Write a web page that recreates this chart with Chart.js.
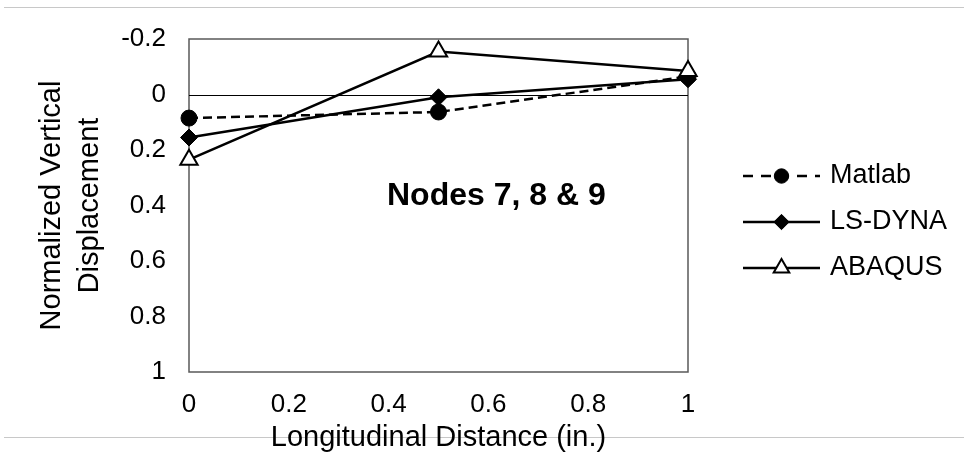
<!DOCTYPE html>
<html>
<head>
<meta charset="utf-8">
<script src="https://cdn.jsdelivr.net/npm/chart.js@4/dist/chart.umd.min.js"></script>
<style>
  html, body { margin: 0; padding: 0; background: #fff; }
  #wrap { width: 964px; height: 459px; position: relative; }
</style>
</head>
<body>
<div id="wrap"><canvas id="chart"></canvas></div>
<script>
// node displacement along the span (positive = downward)
const xValues = [0, 0.5, 1];
const matlab = [0.085, 0.063, -0.065];
const lsDyna = [0.155, 0.01, -0.055];
const abaqus = [0.235, -0.155, -0.085];
const seriesNames = ['Matlab', 'LS-DYNA', 'ABAQUS'];
const xTickLabels = ['0', '0.2', '0.4', '0.6', '0.8', '1'];
const yTickLabels = ['-0.2', '0', '0.2', '0.4', '0.6', '0.8', '1'];
const noteText = 'Nodes 7, 8 & 9';

const FONT = '"Liberation Sans", Arial, sans-serif';
const Y_MIN = -0.2;
const Y_MAX = 1;
const STEP = 0.2;

// where the note and legend sit
const NOTE_AT = { x: 0.616, y: 0.366 };
const LEGEND = { lineFrom: 743, lineTo: 820, textX: 830, rows: [176, 222, 268] };

function points(values) {
  return xValues.map((x, i) => ({ x: x, y: values[i] }));
}

// tick labels looked up by value so the reversed axis keeps them right
function labelFor(list, start) {
  return (v) => list[Math.round((v - start) / STEP)];
}

const datasets = [
  {
    label: seriesNames[0],
    data: points(matlab),
    borderColor: '#000',
    borderWidth: 2.5,
    borderDash: [9, 5],
    legendDash: [10, 8],
    pointStyle: 'circle',
    pointRadius: 8,
    pointBackgroundColor: '#000',
    pointBorderColor: '#000',
    pointBorderWidth: 1,
    order: 3,
  },
  {
    label: seriesNames[1],
    data: points(lsDyna),
    borderColor: '#000',
    borderWidth: 2.5,
    pointStyle: 'rectRot',
    pointRadius: 8.5,
    pointBackgroundColor: '#000',
    pointBorderColor: '#000',
    pointBorderWidth: 1,
    order: 2,
  },
  {
    label: seriesNames[2],
    data: points(abaqus),
    borderColor: '#000',
    borderWidth: 2.5,
    pointStyle: 'triangle',
    pointRadius: 10,
    pointBackgroundColor: '#fff',
    pointBorderColor: '#000',
    pointBorderWidth: 2,
    order: 1,
  },
];

/* ---------------- PAGE LINES, FRAME, NOTE, LEGEND ---------------- */

const decorations = {
  id: 'decorations',

  beforeDraw(chart) {
    const ctx = chart.ctx;
    ctx.save();
    ctx.strokeStyle = '#c8c8c8';
    ctx.lineWidth = 1;
    ctx.beginPath();
    ctx.moveTo(4, 7.5);
    ctx.lineTo(964, 7.5);
    ctx.moveTo(4, 437.5);
    ctx.lineTo(964, 437.5);
    ctx.stroke();
    ctx.restore();
  },

  beforeDatasetsDraw(chart) {
    const { ctx, chartArea: a, scales } = chart;
    ctx.save();
    ctx.strokeStyle = '#595959';
    ctx.lineWidth = 1.5;
    ctx.strokeRect(a.left, a.top, a.right - a.left, a.bottom - a.top);

    const y0 = Math.round(scales.y.getPixelForValue(0)) + 0.5;
    ctx.strokeStyle = '#000';
    ctx.lineWidth = 1;
    ctx.beginPath();
    ctx.moveTo(a.left, y0);
    ctx.lineTo(a.right, y0);
    ctx.stroke();
    ctx.restore();
  },

  afterDraw(chart) {
    const { ctx, scales } = chart;
    ctx.save();

    ctx.fillStyle = '#000';
    ctx.font = 'bold 32px ' + FONT;
    ctx.textAlign = 'center';
    ctx.textBaseline = 'middle';
    ctx.fillText(
      noteText,
      scales.x.getPixelForValue(NOTE_AT.x),
      scales.y.getPixelForValue(NOTE_AT.y),
    );

    chart.data.datasets.forEach((ds, i) => {
      const y = LEGEND.rows[i];
      ctx.setLineDash(ds.legendDash || []);
      ctx.strokeStyle = ds.borderColor;
      ctx.lineWidth = ds.borderWidth;
      ctx.beginPath();
      ctx.moveTo(LEGEND.lineFrom, y);
      ctx.lineTo(LEGEND.lineTo, y);
      ctx.stroke();
      ctx.setLineDash([]);

      ctx.fillStyle = ds.pointBackgroundColor;
      ctx.strokeStyle = ds.pointBorderColor;
      ctx.lineWidth = ds.pointBorderWidth;
      Chart.helpers.drawPoint(
        ctx,
        { pointStyle: ds.pointStyle, radius: ds.pointRadius * 0.9, rotation: 0, borderWidth: ds.pointBorderWidth },
        (LEGEND.lineFrom + LEGEND.lineTo) / 2,
        y,
      );

      ctx.fillStyle = '#000';
      ctx.font = '27px ' + FONT;
      ctx.textAlign = 'left';
      ctx.textBaseline = 'middle';
      ctx.fillText(ds.label, LEGEND.textX, y);
    });

    ctx.restore();
  },
};

/* ---------------- CHART ---------------- */

new Chart(document.getElementById('chart'), {
  type: 'line',
  data: { datasets: datasets },
  plugins: [decorations],
  options: {
    responsive: true,
    maintainAspectRatio: false,
    animation: false,
    events: [],
    clip: false,
    layout: { padding: { top: 39, right: 276, bottom: 0, left: 0 } },
    plugins: { legend: { display: false }, tooltip: { enabled: false } },
    scales: {
      x: {
        type: 'linear',
        min: 0,
        max: 1,
        grid: { display: false, drawTicks: false },
        border: { display: false },
        ticks: {
          stepSize: STEP,
          padding: 17,
          color: '#000',
          font: { family: FONT, size: 26 },
          callback: labelFor(xTickLabels, 0),
        },
        title: {
          display: true,
          text: 'Longitudinal Distance (in.)',
          color: '#000',
          font: { family: FONT, size: 29 },
          padding: { top: 0, bottom: 4 },
        },
        afterFit: (scale) => { scale.height = 87; },
      },
      y: {
        type: 'linear',
        min: Y_MIN,
        max: Y_MAX,
        reverse: true,
        grid: { display: false, drawTicks: false },
        border: { display: false },
        ticks: {
          stepSize: STEP,
          padding: 23,
          color: '#000',
          font: { family: FONT, size: 26 },
          callback: labelFor(yTickLabels, Y_MIN),
        },
        title: {
          display: true,
          text: ['Normalized Vertical', 'Displacement'],
          color: '#000',
          font: { family: FONT, size: 29, lineHeight: 1.3 },
          padding: { top: 33, bottom: 0 },
        },
        afterFit: (scale) => { scale.width = 189; },
      },
    },
  },
});
</script>
</body>
</html>
